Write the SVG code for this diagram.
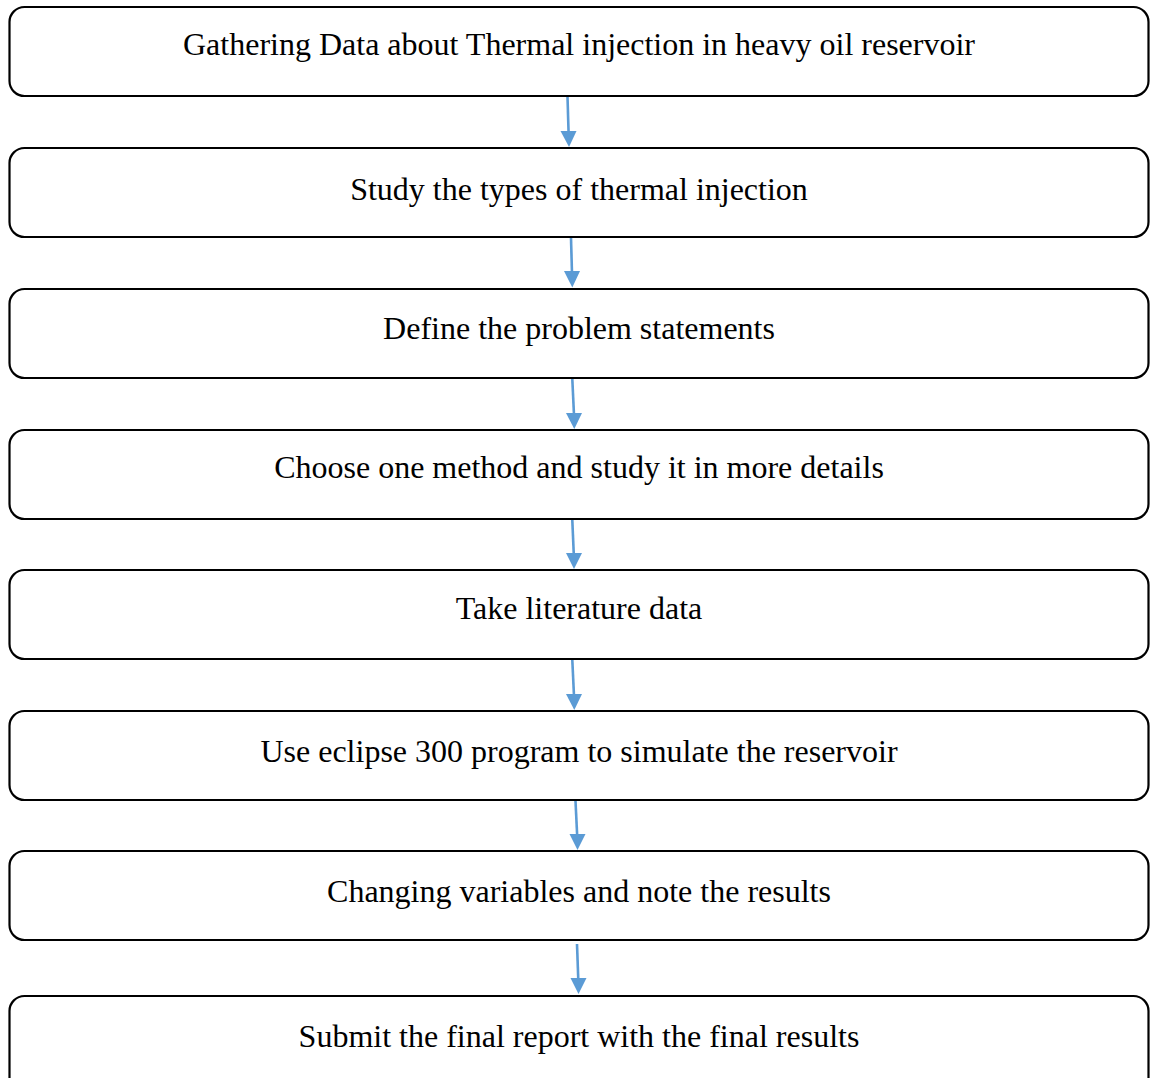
<svg xmlns="http://www.w3.org/2000/svg" width="1150" height="1078" viewBox="0 0 1150 1078">
<style>
.box{fill:#fff;stroke:#000;stroke-width:2.2}
.lbl{font-family:"Liberation Serif","Times New Roman",serif;font-size:32px;fill:#000;text-anchor:middle}
.arr{stroke:#5B9BD5;stroke-width:2.6;fill:none}
.head{fill:#5B9BD5}
</style>
<rect width="1150" height="1078" fill="#fff"/>
<g id="connectors">
<g><line class="arr" x1="567.5" y1="97" x2="568.6" y2="133"/><polygon class="head" points="560.5,131 576.5,131 569,147"/></g>
<g><line class="arr" x1="571" y1="238" x2="572" y2="273"/><polygon class="head" points="564,271 580,271 572.3,287.5"/></g>
<g><line class="arr" x1="572.3" y1="379" x2="574" y2="415"/><polygon class="head" points="566,413 582,413 574.3,429"/></g>
<g><line class="arr" x1="572.3" y1="520" x2="573.8" y2="555"/><polygon class="head" points="566,553 582,553 574,569"/></g>
<g><line class="arr" x1="572.3" y1="660" x2="574" y2="696"/><polygon class="head" points="566,694 582,694 574.3,710"/></g>
<g><line class="arr" x1="575.5" y1="801" x2="577.2" y2="836"/><polygon class="head" points="569.5,834 585.5,834 577.5,850"/></g>
<g><line class="arr" x1="577" y1="944" x2="578.3" y2="980"/><polygon class="head" points="570.5,978 586.5,978 578.5,994"/></g>
</g>
<g id="n1"><rect class="box" x="9.5" y="7" width="1139" height="89" rx="15"/><text class="lbl" x="579" y="55">Gathering Data about Thermal injection in heavy oil reservoir</text></g>
<g id="n2"><rect class="box" x="9.5" y="148" width="1139" height="89" rx="15"/><text class="lbl" x="579" y="200">Study the types of thermal injection</text></g>
<g id="n3"><rect class="box" x="9.5" y="289" width="1139" height="89" rx="15"/><text class="lbl" x="579" y="339">Define the problem statements</text></g>
<g id="n4"><rect class="box" x="9.5" y="430" width="1139" height="89" rx="15"/><text class="lbl" x="579" y="478">Choose one method and study it in more details</text></g>
<g id="n5"><rect class="box" x="9.5" y="570" width="1139" height="89" rx="15"/><text class="lbl" x="579" y="619">Take literature data</text></g>
<g id="n6"><rect class="box" x="9.5" y="711" width="1139" height="89" rx="15"/><text class="lbl" x="579" y="761.5">Use eclipse 300 program to simulate the reservoir</text></g>
<g id="n7"><rect class="box" x="9.5" y="851" width="1139" height="89" rx="15"/><text class="lbl" x="579" y="902">Changing variables and note the results</text></g>
<g id="n8"><rect class="box" x="9.5" y="996" width="1139" height="100" rx="15"/><text class="lbl" x="579" y="1047">Submit the final report with the final results</text></g>
</svg>
